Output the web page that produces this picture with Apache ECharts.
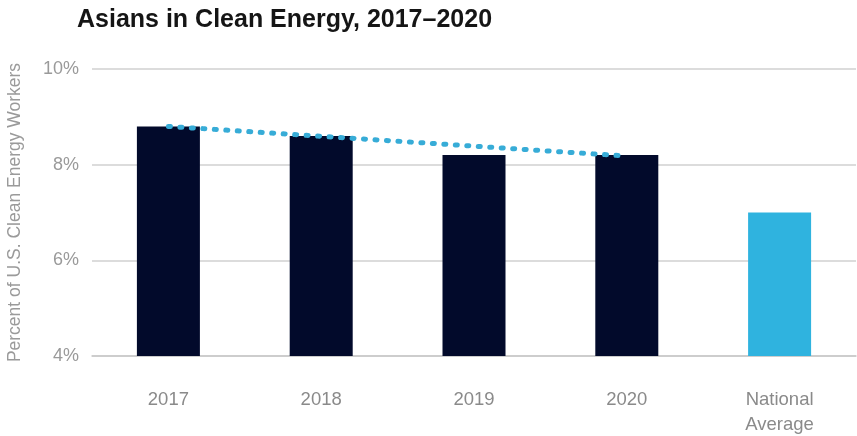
<!DOCTYPE html>
<html>
<head>
<meta charset="utf-8">
<script src="https://cdn.jsdelivr.net/npm/echarts@6/dist/echarts.min.js"></script>
<style>
  html, body { margin: 0; padding: 0; background: #fff; }
  #chart { width: 857px; height: 436px; }
</style>
</head>
<body>
<div id="chart"></div>
<script>
// Share of U.S. clean energy workers who are Asian, by year, plus the national average
const categories = ['2017', '2018', '2019', '2020', 'National\nAverage'];
const shareValues = [8.8, 8.6, 8.2, 8.2, 7.0];
// Trend line endpoints (2017 and 2020)
const trendValues = [8.8, null, null, 8.18, null];
const yTicks = [4, 6, 8, 10];

const navy = '#020a2b';
const sky = '#2fb3df';
const labelFont = 'Liberation Sans Narrow, Liberation Sans, Arial, sans-serif';

const chart = echarts.init(document.getElementById('chart'));
chart.setOption({
  animation: false,
  backgroundColor: '#ffffff',
  title: {
    text: 'Asians in Clean Energy, 2017\u20132020',
    left: 72,
    top: 3,
    textStyle: {
      fontFamily: 'Liberation Sans, Arial, sans-serif',
      fontWeight: 'bold',
      fontSize: 25,
      color: '#151515'
    }
  },
  grid: {
    left: 92, right: 1, top: 69, bottom: 80,
    containLabel: false,
    outerBoundsMode: 'none'
  },
  xAxis: {
    type: 'category',
    data: categories,
    axisTick: { show: false },
    axisLine: { lineStyle: { color: '#c8c8c8', width: 1.5 } },
    axisLabel: {
      color: '#8a8a8a',
      fontFamily: labelFont,
      fontSize: 18.5,
      lineHeight: 25,
      margin: 31
    }
  },
  yAxis: {
    type: 'value',
    min: yTicks[0],
    max: yTicks[yTicks.length - 1],
    interval: 2,
    name: 'Percent of U.S. Clean Energy Workers',
    nameLocation: 'middle',
    nameGap: 68,
    nameTextStyle: {
      color: '#9a9a9a',
      fontFamily: labelFont,
      fontSize: 17.5
    },
    axisLine: { show: false },
    axisTick: { show: false },
    splitLine: { lineStyle: { color: '#d0d0d0', width: 1.5 } },
    axisLabel: {
      color: '#9a9a9a',
      fontFamily: labelFont,
      fontSize: 18,
      margin: 13,
      formatter: v => v + '%'
    }
  },
  series: [
    {
      type: 'bar',
      barWidth: 63,
      data: shareValues.map((v, i) => ({
        value: v,
        itemStyle: { color: i === shareValues.length - 1 ? sky : navy }
      })),
      z: 2
    },
    {
      type: 'line',
      data: trendValues,
      connectNulls: true,
      symbol: 'none',
      lineStyle: {
        color: '#37acd7',
        width: 5,
        type: [2, 9.5],
        cap: 'round'
      },
      z: 3
    }
  ]
});
</script>
</body>
</html>
